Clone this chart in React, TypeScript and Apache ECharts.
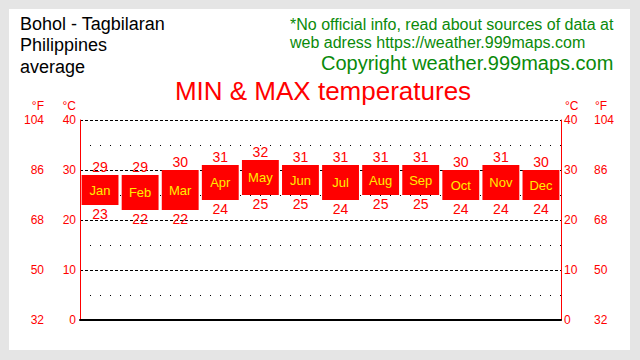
import React, { useEffect, useRef } from "react";
import * as echarts from "echarts";

const months = ["Jan", "Feb", "Mar", "Apr", "May", "Jun", "Jul", "Aug", "Sep", "Oct", "Nov", "Dec"];
const maxTemps = [29, 29, 30, 31, 32, 31, 31, 31, 31, 30, 31, 30];
const minTemps = [23, 22, 22, 24, 25, 25, 24, 25, 25, 24, 24, 24];
const celsiusTicks = ["0", "10", "20", "30", "40"];
const fahrenheitTicks = ["32", "50", "68", "86", "104"];

const FONT = "'Liberation Sans', Arial, sans-serif";
const RED = "#ff0000";
const GREEN = "#0a8a0a";

export default function App() {
  const ref = useRef<HTMLDivElement>(null);

  useEffect(() => {
    document.body.style.margin = "0";
    if (!ref.current) return;
    const chart = echarts.init(ref.current, undefined, { renderer: "svg" });
    const fLabel = (v: number) => fahrenheitTicks[celsiusTicks.indexOf(String(v))] ?? "";
    const cLabel = (v: number) => celsiusTicks[celsiusTicks.indexOf(String(v))] ?? "";

    const baseY = {
      type: "value",
      min: 0,
      max: 40,
      interval: 10,
      axisTick: { show: false },
    };

    chart.setOption({
      animation: false,
      grid: { left: 80, right: 79, top: 120, bottom: 40, containLabel: false },
      xAxis: {
        type: "category",
        data: months,
        axisLine: { show: true, lineStyle: { color: "#000", width: 2 } },
        axisTick: { show: false },
        axisLabel: { show: false },
        splitLine: { show: false },
      },
      yAxis: [
        {
          ...baseY,
          position: "left",
          axisLine: { show: true, lineStyle: { color: RED, width: 1 } },
          axisLabel: { color: RED, fontSize: 12, fontFamily: FONT, margin: 4, formatter: cLabel },
          splitLine: { show: true, lineStyle: { color: "#000", type: [3, 2], width: 1 } },
          minorTick: { show: false, splitNumber: 2 },
          minorSplitLine: { show: true, lineStyle: { color: "#000", type: [1, 9], width: 1 } },
        },
        {
          ...baseY,
          position: "left",
          axisLine: { show: false },
          axisLabel: { color: RED, fontSize: 12, fontFamily: FONT, margin: 36, formatter: fLabel },
          splitLine: { show: false },
        },
        {
          ...baseY,
          position: "right",
          axisLine: { show: true, lineStyle: { color: RED, width: 1 } },
          axisLabel: { color: RED, fontSize: 12, fontFamily: FONT, margin: 3, formatter: cLabel },
          splitLine: { show: false },
        },
        {
          ...baseY,
          position: "right",
          axisLine: { show: false },
          axisLabel: { color: RED, fontSize: 12, fontFamily: FONT, margin: 33, formatter: fLabel },
          splitLine: { show: false },
        },
      ],
      graphic: [
        { type: "text", x: 20, y: 23.5, style: { text: "Bohol - Tagbilaran", fill: "#000", font: `18px ${FONT}`, textVerticalAlign: "middle" } },
        { type: "text", x: 20, y: 45, style: { text: "Philippines", fill: "#000", font: `18px ${FONT}`, textVerticalAlign: "middle" } },
        { type: "text", x: 20, y: 67, style: { text: "average", fill: "#000", font: `18px ${FONT}`, textVerticalAlign: "middle" } },
        { type: "text", x: 290, y: 24, style: { text: "*No official info, read about sources of data at", fill: GREEN, font: `16px ${FONT}`, textVerticalAlign: "middle" } },
        { type: "text", x: 290, y: 42.5, style: { text: "web adress https://weather.999maps.com", fill: GREEN, font: `16px ${FONT}`, textVerticalAlign: "middle" } },
        { type: "text", x: 321, y: 63, style: { text: "Copyright weather.999maps.com", fill: GREEN, font: `20px ${FONT}`, textVerticalAlign: "middle" } },
        { type: "text", x: 323, y: 91, style: { text: "MIN & MAX temperatures", fill: RED, font: `26px ${FONT}`, textAlign: "center", textVerticalAlign: "middle" } },
        { type: "text", x: 44, y: 106, style: { text: "°F", fill: RED, font: `12px ${FONT}`, textAlign: "right", textVerticalAlign: "middle" } },
        { type: "text", x: 76, y: 106, style: { text: "°C", fill: RED, font: `12px ${FONT}`, textAlign: "right", textVerticalAlign: "middle" } },
        { type: "text", x: 565, y: 106, style: { text: "°C", fill: RED, font: `12px ${FONT}`, textAlign: "left", textVerticalAlign: "middle" } },
        { type: "text", x: 595, y: 106, style: { text: "°F", fill: RED, font: `12px ${FONT}`, textAlign: "left", textVerticalAlign: "middle" } },
      ],
      series: [
        {
          type: "custom",
          xAxisIndex: 0,
          yAxisIndex: 0,
          encode: { x: 0, y: [1, 2] },
          data: months.map((m, i) => [i, minTemps[i], maxTemps[i]]),
          renderItem: (params: any, api: any) => {
            const idx = api.value(0);
            const lo = api.coord([idx, api.value(1)]);
            const hi = api.coord([idx, api.value(2)]);
            const bw = api.size([1, 0])[0] * 0.92;
            const name = months[idx];
            return {
              type: "group",
              children: [
                {
                  type: "rect",
                  shape: { x: hi[0] - bw / 2, y: hi[1], width: bw, height: lo[1] - hi[1] },
                  style: { fill: RED },
                },
                {
                  type: "text",
                  x: hi[0],
                  y: (hi[1] + lo[1]) / 2,
                  style: { text: name, fill: "#ffee00", font: `13px ${FONT}`, textAlign: "center", textVerticalAlign: "middle" },
                },
                {
                  type: "text",
                  x: hi[0],
                  y: hi[1] - 1,
                  style: { text: String(api.value(2)), fill: RED, font: `14px ${FONT}`, textAlign: "center", textVerticalAlign: "bottom" },
                },
                {
                  type: "text",
                  x: lo[0],
                  y: lo[1] + 2,
                  style: { text: String(api.value(1)), fill: RED, font: `14px ${FONT}`, textAlign: "center", textVerticalAlign: "top" },
                },
              ],
            };
          },
        },
      ],
    });
    return () => chart.dispose();
  }, []);

  return (
    <div style={{ position: "fixed", left: 0, top: 0, width: 640, height: 360, background: "#e5e5e5" }}>
      <div style={{ position: "absolute", left: 9, top: 9, width: 621, height: 341, background: "#fff" }} />
      <div ref={ref} style={{ position: "absolute", left: 0, top: 0, width: 640, height: 360 }} />
    </div>
  );
}
